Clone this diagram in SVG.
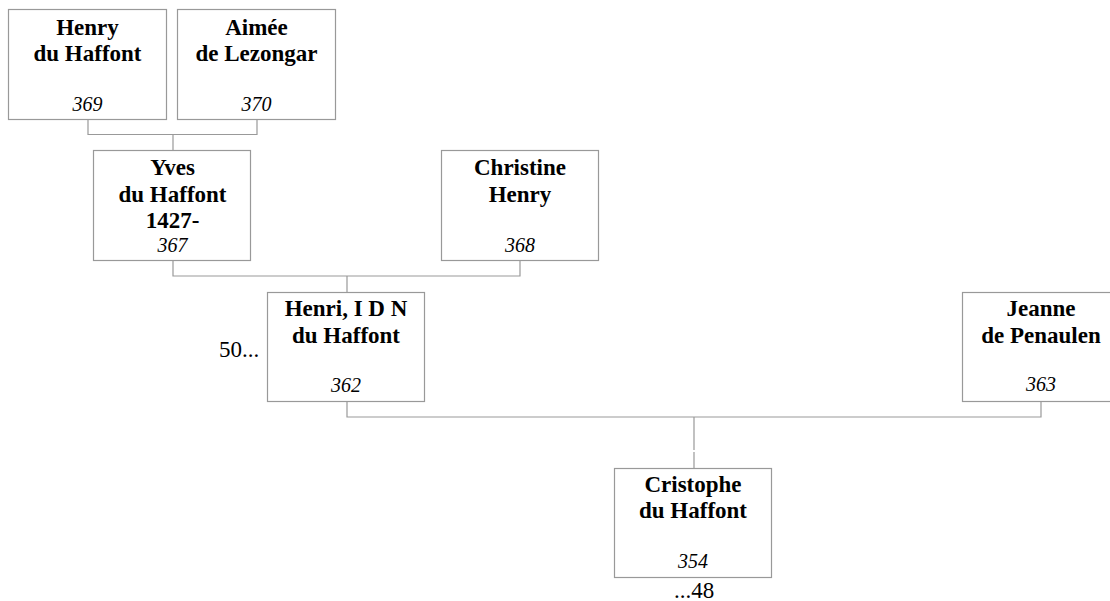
<svg xmlns="http://www.w3.org/2000/svg" width="1110" height="601" viewBox="0 0 1110 601">
<style>
.box{fill:#fff;stroke:#999;stroke-width:1.2}
.n{font-family:"Liberation Serif","Times New Roman",serif;font-weight:bold;font-size:23px;fill:#000;text-anchor:middle;font-variant-ligatures:none}
.id{font-family:"Liberation Serif","Times New Roman",serif;font-style:italic;font-size:20px;fill:#000;text-anchor:middle}
.t{font-family:"Liberation Serif","Times New Roman",serif;font-size:23px;fill:#000}
.c{fill:none;stroke:#999;stroke-width:1.2}
</style>
<rect width="1110" height="601" fill="#fff"/>
<g id="connectors">
<path class="c" d="M88 119V134.5H257V119M173 134.5V151"/>
<path class="c" d="M173 260V276H520V260M347 276V292"/>
<path class="c" d="M347 402V417H1041V401M694 417V450M694 452V468"/>
</g>
<g id="n369">
<rect class="box" x="8.5" y="9.5" width="158" height="110"/>
<text class="n" x="87.5" y="35">Henry</text>
<text class="n" x="87.5" y="61">du Haffont</text>
<text class="id" x="87.5" y="111">369</text>
</g>
<g id="n370">
<rect class="box" x="177.5" y="9.5" width="158" height="110"/>
<text class="n" x="256.5" y="35">Aimée</text>
<text class="n" x="256.5" y="61">de Lezongar</text>
<text class="id" x="256.5" y="111">370</text>
</g>
<g id="n367">
<rect class="box" x="93.5" y="150.5" width="157" height="110"/>
<text class="n" x="172.5" y="175">Yves</text>
<text class="n" x="172.5" y="202">du Haffont</text>
<text class="n" x="172.5" y="228">1427-</text>
<text class="id" x="172.5" y="251.5">367</text>
</g>
<g id="n368">
<rect class="box" x="441.5" y="150.5" width="157" height="110"/>
<text class="n" x="520" y="175">Christine</text>
<text class="n" x="520" y="202">Henry</text>
<text class="id" x="520" y="251.5">368</text>
</g>
<g id="n362">
<rect class="box" x="267.5" y="292.5" width="157" height="109"/>
<text class="n" x="346" y="316">Henri, I D N</text>
<text class="n" x="346" y="343">du Haffont</text>
<text class="id" x="346" y="391.5">362</text>
<text class="t" x="219" y="357">50...</text>
</g>
<g id="n363">
<rect class="box" x="962.5" y="292.5" width="158" height="109"/>
<text class="n" x="1041" y="316">Jeanne</text>
<text class="n" x="1041" y="343">de Penaulen</text>
<text class="id" x="1041" y="391">363</text>
</g>
<g id="n354">
<rect class="box" x="614.5" y="468.5" width="157" height="109"/>
<text class="n" x="693" y="492">Cristophe</text>
<text class="n" x="693" y="518">du Haffont</text>
<text class="id" x="693" y="568">354</text>
<text class="t" x="694" y="598" text-anchor="middle">...48</text>
</g>
</svg>
